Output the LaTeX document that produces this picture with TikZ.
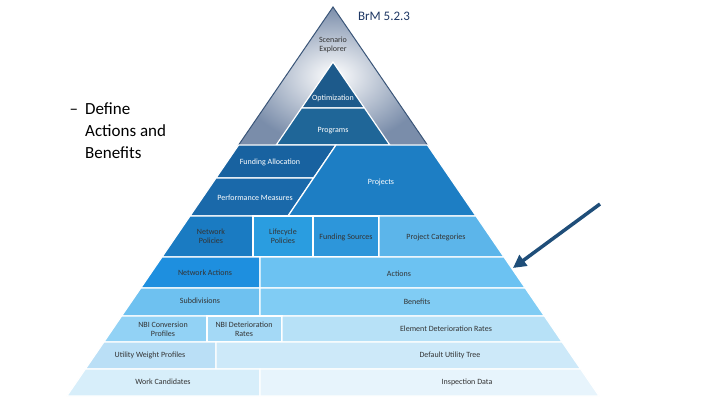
\documentclass[tikz,border=0pt]{standalone}
\usepackage{fontspec}
\setmainfont{Carlito}
\usetikzlibrary{arrows.meta}
\definecolor{arrowblue}{HTML}{1F4E79}
\definecolor{titleblue}{HTML}{1F3864}
\definecolor{rimgray}{HTML}{3A5578}
\definecolor{topgray}{HTML}{7A8DAA}
\definecolor{txtgray}{HTML}{333333}
\definecolor{optblue}{HTML}{1D5A8B}
\definecolor{progblue}{HTML}{1F6698}
\definecolor{fallocblue}{HTML}{1862A0}
\definecolor{perfblue}{HTML}{1A69AA}
\definecolor{projblue}{HTML}{1D7EC4}
\definecolor{netpolblue}{HTML}{1A7BC2}
\definecolor{lifepolblue}{HTML}{2A9DE0}
\definecolor{fsrcblue}{HTML}{2D96DA}
\definecolor{pcatblue}{HTML}{5CB5EA}
\definecolor{netactblue}{HTML}{1E8FDF}
\definecolor{actblue}{HTML}{6CC2F2}
\definecolor{subdivblue}{HTML}{6EC1F0}
\definecolor{benblue}{HTML}{80CCF4}
\definecolor{nbiconvblue}{HTML}{92D2F5}
\definecolor{nbidetblue}{HTML}{A4D9F6}
\definecolor{eldetblue}{HTML}{B7E1F7}
\definecolor{uwpblue}{HTML}{BADFF6}
\definecolor{dutblue}{HTML}{CDE9F9}
\definecolor{workcblue}{HTML}{D7EEFA}
\definecolor{inspblue}{HTML}{E7F4FC}
\begin{document}
\begin{tikzpicture}[x=1pt,y=-1pt,
    cell/.style={draw=white,line width=1.2pt},
    lbl/.style={font=\fontsize{8}{9}\selectfont,text=txtgray,align=center},
    wlbl/.style={lbl,text=white},
    pointer/.style={-{Triangle[length=13pt,width=13pt]},line width=3.5pt,draw=arrowblue}
]
\useasboundingbox (0,0) rectangle (720,404);

% top of the pyramid
\shade[inner color=white,outer color=topgray] (333,7) -- (427.4,145) -- (238.6,145) -- cycle;
\draw[rimgray,line width=1pt] (333,7) -- (427.4,145) -- (238.6,145) -- cycle;
\filldraw[cell,fill=optblue] (333,62) -- (364.5,108) -- (301.5,108) -- cycle;
\filldraw[cell,fill=progblue] (301.5,108) -- (364.5,108) -- (389.8,145) -- (276.2,145) -- cycle;

% second band
\filldraw[cell,fill=fallocblue] (238.6,145) -- (336,145) -- (313.5,178) -- (216,178) -- cycle;
\filldraw[cell,fill=perfblue] (216,178) -- (313.5,178) -- (288,216) -- (190,216) -- cycle;
\filldraw[cell,fill=projblue] (336,145) -- (427.4,145) -- (476,216) -- (288,216) -- cycle;

% third band
\filldraw[cell,fill=netpolblue] (190,216) -- (253,216) -- (253,257) -- (162,257) -- cycle;
\filldraw[cell,fill=lifepolblue] (253,216) rectangle (313,257);
\filldraw[cell,fill=fsrcblue] (313,216) rectangle (379,257);
\filldraw[cell,fill=pcatblue] (379,216) -- (476,216) -- (504,257) -- (379,257) -- cycle;

% lower bands
\filldraw[cell,fill=netactblue] (162,257) -- (260,257) -- (260,288) -- (140.8,288) -- cycle;
\filldraw[cell,fill=actblue] (260,257) -- (504,257) -- (525.2,288) -- (260,288) -- cycle;
\filldraw[cell,fill=subdivblue] (140.8,288) -- (260,288) -- (260,316) -- (121.6,316) -- cycle;
\filldraw[cell,fill=benblue] (260,288) -- (525.2,288) -- (544.4,316) -- (260,316) -- cycle;
\filldraw[cell,fill=nbiconvblue] (121.6,316) -- (207,316) -- (207,342) -- (103.9,342) -- cycle;
\filldraw[cell,fill=nbidetblue] (207,316) rectangle (282,342);
\filldraw[cell,fill=eldetblue] (282,316) -- (544.4,316) -- (562.1,342) -- (282,342) -- cycle;
\filldraw[cell,fill=uwpblue] (103.9,342) -- (216,342) -- (216,369) -- (85.4,369) -- cycle;
\filldraw[cell,fill=dutblue] (216,342) -- (562.1,342) -- (580.6,369) -- (216,369) -- cycle;
\filldraw[cell,fill=workcblue] (85.4,369) -- (260,369) -- (260,396) -- (66.9,396) -- cycle;
\filldraw[cell,fill=inspblue] (260,369) -- (580.6,369) -- (599.1,396) -- (260,396) -- cycle;

% labels
\node[lbl] (scen) at (333,45) {Scenario\\Explorer};
\node[wlbl] (opt) at (333,98) {Optimization};
\node[wlbl] (prog) at (333,131) {Programs};
\node[wlbl] (falloc) at (270,162) {Funding Allocation};
\node[wlbl] (perf) at (255,198) {Performance Measures};
\node[wlbl] (proj) at (381,182) {Projects};
\node[lbl] (netpol) at (211,236) {Network\\Policies};
\node[lbl] (lifepol) at (283,236) {Lifecycle\\Policies};
\node[lbl] (fsrc) at (346,237) {Funding Sources};
\node[lbl] (pcat) at (436,237) {Project Categories};
\node[lbl] (netact) at (205,273) {Network Actions};
\node[lbl] (act) at (399,274) {Actions};
\node[lbl] (subdiv) at (200,301) {Subdivisions};
\node[lbl] (ben) at (417,302) {Benefits};
\node[lbl] (nbiconv) at (163,329) {NBI Conversion\\Profiles};
\node[lbl] (nbidet) at (244,329) {NBI Deterioration\\Rates};
\node[lbl] (eldet) at (446,329) {Element Deterioration Rates};
\node[lbl] (uwp) at (150,355) {Utility Weight Profiles};
\node[lbl] (dut) at (450,355) {Default Utility Tree};
\node[lbl] (workc) at (163,382) {Work Candidates};
\node[lbl] (insp) at (467,382) {Inspection Data};

% title and side note
\node[font=\fontsize{13}{15}\selectfont,text=titleblue] (title) at (384,16) {BrM 5.2.3};
\node[anchor=north west,font=\fontsize{17}{22}\selectfont,align=left,inner sep=0pt] (note) at (85,103) {\llap{–\hspace{7pt}}Define\\Actions and\\Benefits};

% pointer
\coordinate (tail) at (600,204);
\coordinate (tip) at (513,268);
\draw[pointer] (tail) -- (tip);
\end{tikzpicture}
\end{document}
